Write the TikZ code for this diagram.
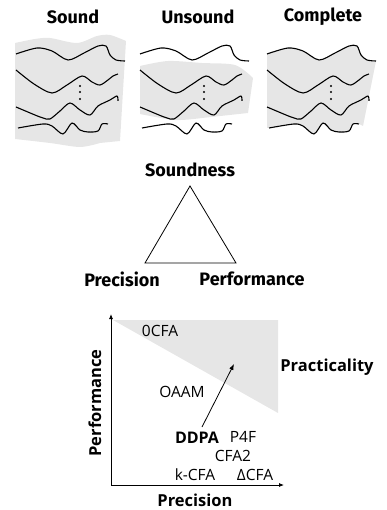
\documentclass[tikz,border=0pt]{standalone}
\usepackage{fontspec}
\setmainfont{Open Sans}
\newfontfamily\headfont{Fira Sans}
\usetikzlibrary{arrows.meta}
\definecolor{lightfill}{RGB}{230,230,230}

\begin{document}
\begin{tikzpicture}[
  x=1pt, y=-1pt,
  head/.style={font=\headfont\bfseries\fontsize{18}{20}\selectfont, inner sep=0pt},
  corner/.style={font=\headfont\bfseries\fontsize{18}{20}\selectfont, inner sep=0pt},
  lbl/.style={font=\fontsize{15.5}{18}\selectfont, inner sep=0pt},
  axlbl/.style={font=\bfseries\fontsize{16.5}{19}\selectfont, inner sep=0pt},
  wave/.style={line width=1.1pt, line join=round},
  axis/.style={line width=0.8pt, -{Latex[length=5pt, width=4pt]}},
  arr/.style={line width=0.8pt, -{Latex[length=6pt, width=4.5pt]}}
]
\useasboundingbox (0,0) rectangle (387,510);

% panel titles
\node[head] (sound) at (73,17) {Sound};
\node[head] (unsound) at (198,17) {Unsound};
\node[head] (complete) at (323,17) {Complete};

% shaded regions
\fill[lightfill] plot[smooth] coordinates {(15,43) (35,39) (50,38) (77,43) (97,36) (110,35) (126,41)}
  -- (120,141) -- plot[smooth] coordinates {(100,143) (80,147) (50,143) (15,139)} -- cycle;
\fill[lightfill] plot[smooth] coordinates {(140,66) (168,61) (202,63) (235,65) (253,78)}
  -- (248,113) -- plot[smooth] coordinates {(202,118) (175,120) (140,114)} -- cycle;
\begin{scope}[xshift=251pt]
  \fill[lightfill] plot[smooth] coordinates {(16,54) (37,48) (52,51) (68,60) (84,53) (98,46) (106,46) (110,55) (116,60) (125,61)}
    -- (112,126) -- plot[smooth] coordinates {(108,124) (102,124) (98,131) (88,132) (80,130) (72,123) (63,134) (52,126) (43,124) (16,128)} -- cycle;
\end{scope}

% the same four traces in every panel
\foreach \dx in {0,124,251} {
  \begin{scope}[xshift=\dx pt]
    \draw[wave] plot[smooth] coordinates {(16,54) (37,48) (52,51) (68,60) (84,53) (98,46) (106,46) (110,55) (116,60) (125,61)};
    \draw[wave] plot[smooth] coordinates {(16,70) (34,84) (52,93) (67,85) (82,76) (92,82) (100,85) (108,80) (113,76) (118,74)};
    \draw[wave] plot[smooth] coordinates {(16,107) (35,115) (43,118) (50,119) (60,111) (70,103) (80,110) (90,115) (98,106) (110,100) (117,96) (118,101)};
    \draw[wave] plot[smooth] coordinates {(18,128) (43,124) (52,126) (63,134) (72,123) (80,130) (88,132) (98,131) (102,124) (108,124)};
    \foreach \dy in {86,92,99}
      \fill (80,\dy) circle (1.2pt);
  \end{scope}
}

% trade-off triangle
\coordinate (apex) at (190,186);
\coordinate (left) at (145,263);
\coordinate (right) at (236,263);
\draw[line width=0.8pt, line join=miter] (apex) -- (left) -- (right) -- cycle;
\node[corner] (soundness) at (190,170) {Soundness};
\node[corner] (precision) at (122,279) {Precision};
\node[corner] (performance) at (252,279) {Performance};

% precision / performance plot
\coordinate (origin) at (111,485);
\coordinate (ytop) at (111,314);
\coordinate (xend) at (284,485);
\fill[lightfill] (113,320) -- (278,320) -- (278,413) -- cycle;
\draw[axis] (origin) -- (ytop);
\draw[axis] (origin) -- (xend);
\node[axlbl] (xlabel) at (195,500) {Precision};
\node[axlbl, rotate=90] (ylabel) at (95,403) {Performance};
\node[axlbl] (practical) at (327,367) {Practicality};

\node[lbl] (zerocfa) at (160,331) {0CFA};
\node[lbl] (oaam) at (182,392) {OAAM};
\node[lbl, font=\bfseries\fontsize{16}{18}\selectfont] (ddpa) at (197,438) {DDPA};
\node[lbl] (pfourf) at (243,437) {P4F};
\node[lbl] (cfatwo) at (233,456) {CFA2};
\node[lbl] (kcfa) at (195,475) {k-CFA};
\node[lbl] (dcfa) at (255,475) {ΔCFA};

\coordinate (from) at (202,427);
\coordinate (gain) at (234,364);
\draw[arr] (from) -- (gain);
\end{tikzpicture}
\end{document}
